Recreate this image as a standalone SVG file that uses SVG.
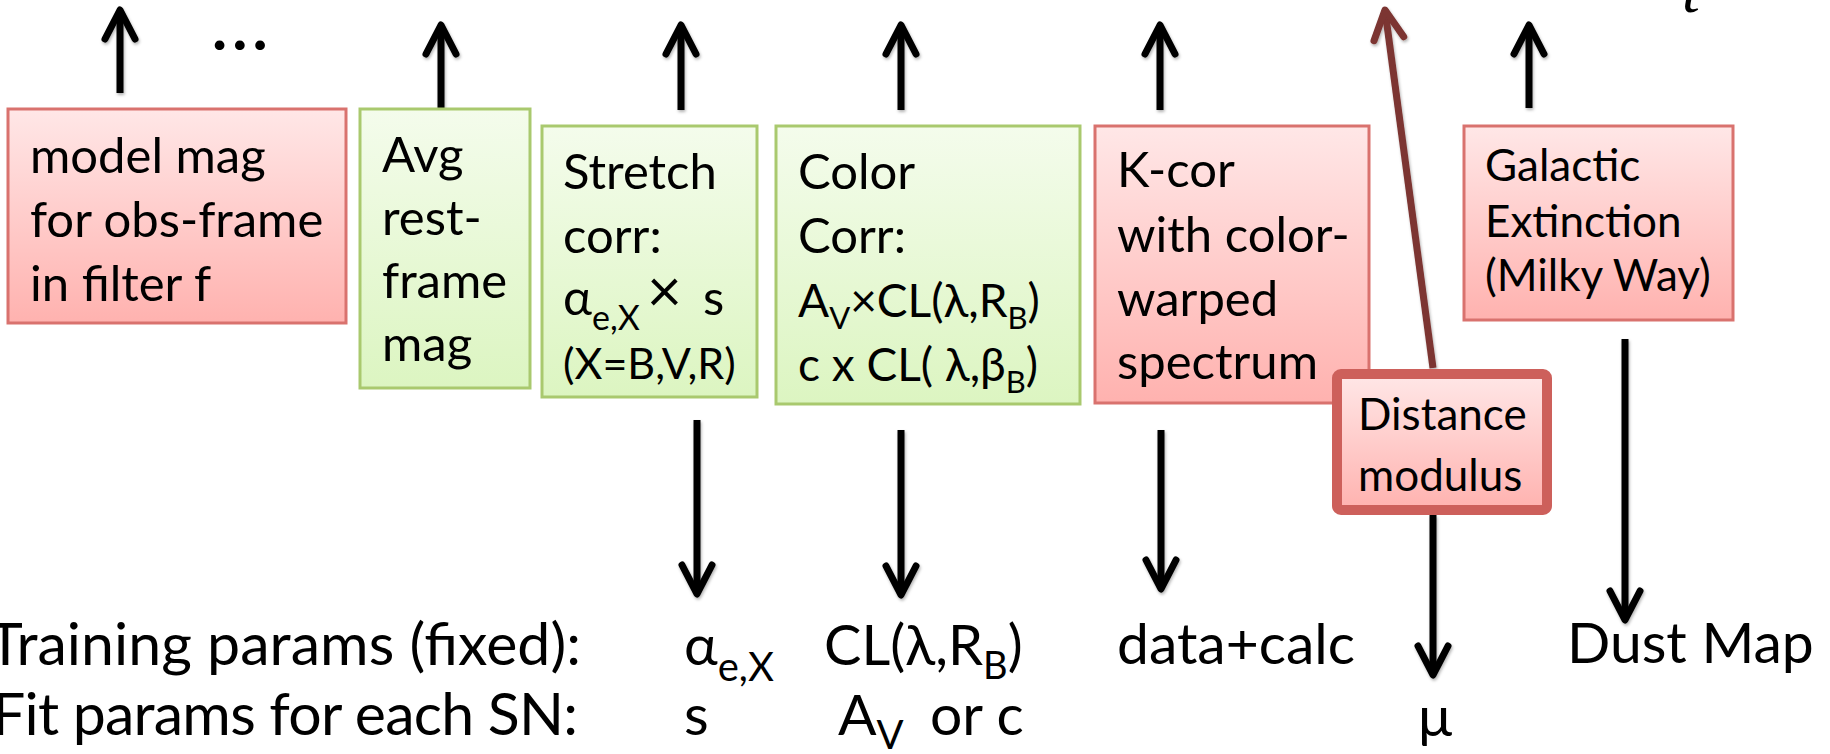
<svg xmlns="http://www.w3.org/2000/svg" width="1830" height="754" viewBox="0 0 1830 754">
<style>
text{font-family:Lato,"Liberation Sans",sans-serif;fill:#000}
.big{font-size:49px}
.mid{font-size:44px}
.bot{font-size:57px}
.pink{fill:url(#gPink);stroke:#D9726E;stroke-width:3}
.green{fill:url(#gGreen);stroke:#A9C96E;stroke-width:3}
.arr{stroke:#000;stroke-width:7;fill:none;marker-end:url(#head)}
.arrB{stroke:#7B3431;stroke-width:7;fill:none;marker-end:url(#headB)}
</style>
<defs>
<linearGradient id="gPink" x1="0" y1="0" x2="0" y2="1"><stop offset="0" stop-color="#FFE7E7"/><stop offset="1" stop-color="#FFB2AF"/></linearGradient>
<linearGradient id="gGreen" x1="0" y1="0" x2="0" y2="1"><stop offset="0" stop-color="#F4FCEC"/><stop offset="1" stop-color="#DCF5C1"/></linearGradient>
<marker id="head" markerUnits="userSpaceOnUse" orient="auto" overflow="visible" markerWidth="40" markerHeight="40" refX="0" refY="0">
<path d="M-29,-15 L0,0 L-29,15" fill="none" stroke="#000" stroke-width="7" stroke-linecap="round" stroke-linejoin="round"/>
</marker>
<marker id="headB" markerUnits="userSpaceOnUse" orient="auto" overflow="visible" markerWidth="40" markerHeight="40" refX="0" refY="0">
<path d="M-29,-15 L0,0 L-29,15" fill="none" stroke="#7B3431" stroke-width="7" stroke-linecap="round" stroke-linejoin="round"/>
</marker>
<filter id="sh" x="-50%" y="-10%" width="200%" height="120%"><feDropShadow dx="1" dy="2" stdDeviation="1.5" flood-color="#000" flood-opacity="0.3"/></filter>
</defs>

<g id="connectors" filter="url(#sh)">
<line class="arr" x1="120" y1="93" x2="120" y2="10"/>
<line class="arr" x1="441" y1="109" x2="441" y2="25"/>
<line class="arr" x1="681" y1="110" x2="681" y2="25"/>
<line class="arr" x1="901" y1="110" x2="901" y2="25"/>
<line class="arr" x1="1160" y1="110" x2="1160" y2="25"/>
<line class="arr" x1="1529" y1="108" x2="1529" y2="25"/>
<line class="arr" x1="697" y1="420" x2="697" y2="594"/>
<line class="arr" x1="901" y1="430" x2="901" y2="595"/>
<line class="arr" x1="1161" y1="430" x2="1161" y2="589"/>
<line class="arr" x1="1433" y1="515" x2="1433" y2="675"/>
<line class="arr" x1="1625" y1="339" x2="1625" y2="620"/>
</g>

<text id="dots" x="212" y="50" style="font-size:64px;font-weight:bold;letter-spacing:5px">...</text>
<text id="topglyph" x="1682" y="12" style="font-family:'Liberation Serif',serif;font-style:italic;font-size:64px">t</text>

<g id="node-model">
<rect class="pink" x="8" y="109" width="338" height="214"/>
<text class="big" x="30" y="173">model mag</text>
<text class="big" x="30" y="237">for obs-frame</text>
<text class="big" x="30" y="301">in filter f</text>
</g>

<g id="node-avg">
<rect class="green" x="360" y="109" width="170" height="279"/>
<text class="big" x="382" y="172">Avg</text>
<text class="big" x="382" y="235">rest-</text>
<text class="big" x="382" y="298">frame</text>
<text class="big" x="382" y="361">mag</text>
</g>

<g id="node-stretch">
<rect class="green" x="542" y="126" width="215" height="271"/>
<text class="big" x="563" y="189">Stretch</text>
<text class="big" x="563" y="253">corr:</text>
<text class="big" x="563" y="315">α<tspan dy="15" style="font-size:34px">e,X</tspan><tspan x="647" dy="-18" style="font-size:60px">×</tspan><tspan x="703" dy="3">s</tspan></text>
<text x="563" y="379" style="font-size:43px">(X=B,V,R)</text>
</g>

<g id="node-color">
<rect class="green" x="776" y="126" width="304" height="278"/>
<text class="big" x="798" y="189">Color</text>
<text class="big" x="798" y="253">Corr:</text>
<text x="798" y="317" style="font-size:46px">A<tspan dy="12" style="font-size:31px">V</tspan><tspan dy="-12">×CL(λ,R</tspan><tspan dy="12" style="font-size:31px">B</tspan><tspan dy="-12">)</tspan></text>
<text x="798" y="381" style="font-size:46px">c x CL( λ,β<tspan dy="12" style="font-size:31px">B</tspan><tspan dy="-12">)</tspan></text>
</g>

<g id="node-kcor">
<rect class="pink" x="1095" y="126" width="274" height="277"/>
<text class="big" x="1117" y="187">K-cor</text>
<text class="big" x="1117" y="252">with color-</text>
<text class="big" x="1117" y="316">warped</text>
<text class="big" x="1117" y="379">spectrum</text>
</g>

<g id="node-galactic">
<rect class="pink" x="1464" y="126" width="269" height="194"/>
<text class="mid" x="1485" y="181">Galactic</text>
<text class="mid" x="1485" y="237">Extinction</text>
<text class="mid" x="1485" y="291">(Milky Way)</text>
</g>

<g id="connector-distance" filter="url(#sh)">
<line class="arrB" x1="1433" y1="368" x2="1385" y2="10"/>
</g>

<g id="node-distance">
<rect x="1337" y="374" width="210" height="136" rx="4" fill="url(#gPink)" stroke="#CD605B" stroke-width="10"/>
<text class="mid" x="1358" y="430">Distance</text>
<text class="mid" x="1358" y="491">modulus</text>
</g>

<g id="labels">
<text x="-12" y="665" style="font-size:59px" textLength="593">Training params (fixed):</text>
<text x="-8" y="735" style="font-size:59px" textLength="586">Fit params for each SN:</text>
<text class="bot" x="684" y="665">α<tspan dy="16" style="font-size:40px">e,X</tspan></text>
<text class="bot" x="684" y="735">s</text>
<text x="824" y="665" style="font-size:56px">CL(λ,R<tspan dy="14" style="font-size:38px">B</tspan><tspan dy="-14">)</tspan></text>
<text class="bot" x="838" y="735">A<tspan dy="14" style="font-size:40px">V</tspan><tspan x="930" dy="-14">or c</tspan></text>
<text class="bot" x="1117" y="664">data+calc</text>
<text class="bot" x="1418" y="736">μ</text>
<text class="bot" x="1567" y="663">Dust Map</text>
</g>
</svg>
